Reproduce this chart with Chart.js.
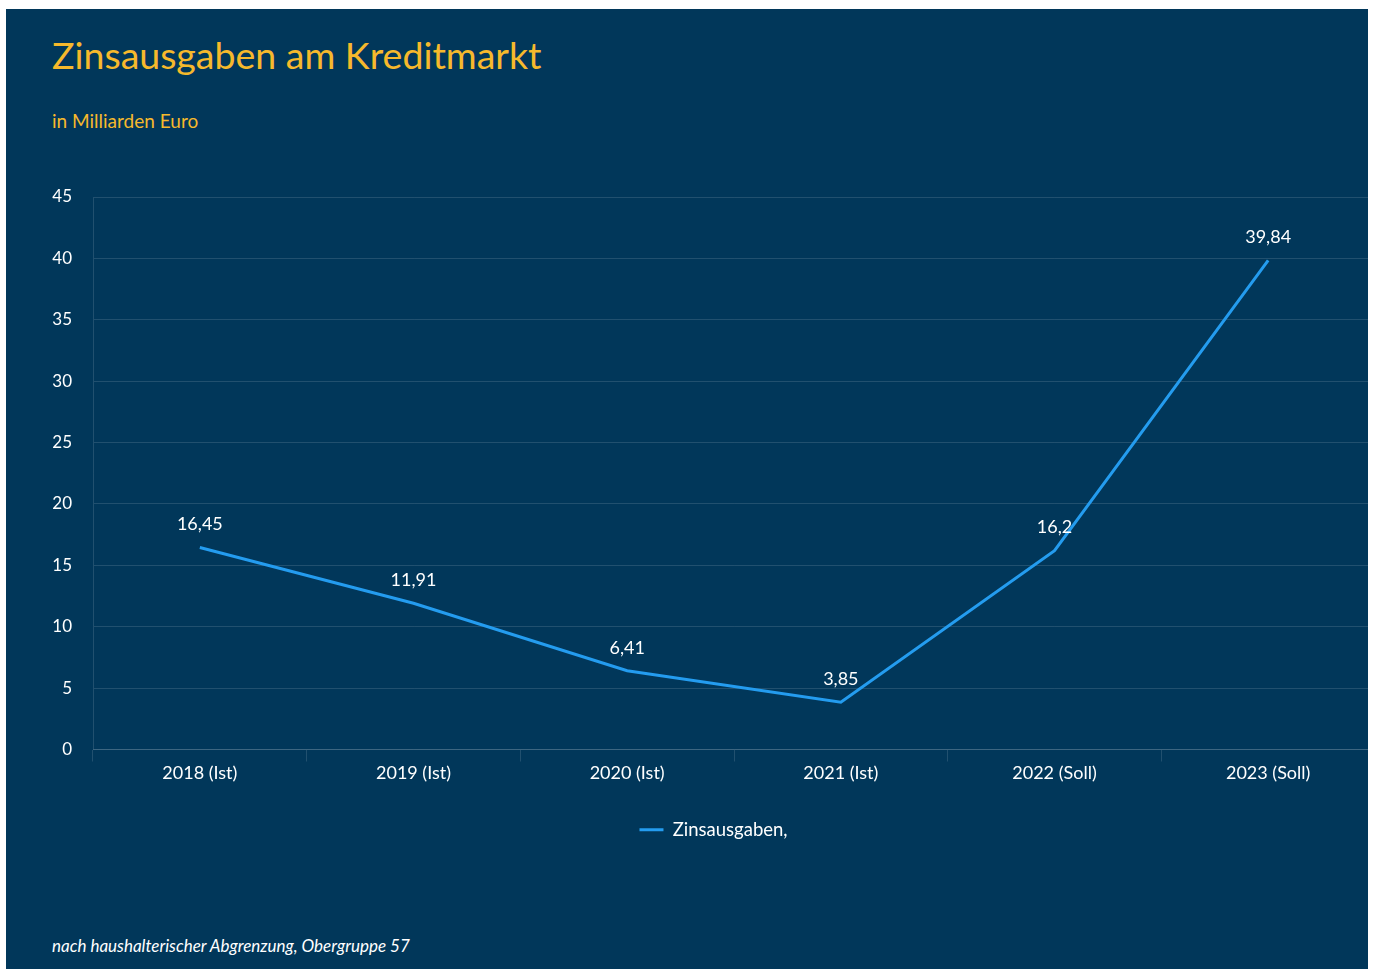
<!DOCTYPE html>
<html lang="de">
<head>
<meta charset="utf-8">
<script src="https://cdn.jsdelivr.net/npm/chart.js@4"></script>
<style>
  html, body { margin: 0; padding: 0; background: #ffffff; }
  #panel { position: absolute; left: 6px; top: 9px; width: 1362px; height: 960px; background: #01375a; overflow: hidden; font-family: Lato, "Noto Sans", sans-serif; }
  #title { position: absolute; left: 46px; top: 23px; color: #f6b92c; font-size: 37.5px; white-space: nowrap; }
  #subtitle { position: absolute; left: 46px; top: 100px; color: #f6b92c; font-size: 19px; white-space: nowrap; }
  #foot { position: absolute; left: 46px; top: 926px; color: #ffffff; font-size: 17px; font-style: italic; white-space: nowrap; }
  #c { position: absolute; left: 0; top: 151px; }
</style>
</head>
<body>
<div id="panel">
  <div id="title">Zinsausgaben am Kreditmarkt</div>
  <div id="subtitle">in Milliarden Euro</div>
  <canvas id="c" width="1369" height="700"></canvas>
  <div id="foot">nach haushalterischer Abgrenzung, Obergruppe 57</div>
</div>
<script>
const categories = ["2018 (Ist)", "2019 (Ist)", "2020 (Ist)", "2021 (Ist)", "2022 (Soll)", "2023 (Soll)"];
const seriesName = "Zinsausgaben,";
const zinsausgaben = [16.45, 11.91, 6.41, 3.85, 16.2, 39.84];
const yTicks = [0, 5, 10, 15, 20, 25, 30, 35, 40, 45];

const BLUE = "#249cef";
const GRID = "rgba(255,255,255,0.13)";
const FONT = "Lato, 'Noto Sans', sans-serif";

const valueLabels = {
  id: "valueLabels",
  afterDatasetsDraw(chart) {
    const ctx = chart.ctx;
    const meta = chart.getDatasetMeta(0);
    ctx.save();
    ctx.font = "18px " + FONT;
    ctx.fillStyle = "#ffffff";
    ctx.textAlign = "center";
    ctx.textBaseline = "middle";
    meta.data.forEach((pt, i) => {
      const v = chart.data.datasets[0].data[i];
      ctx.fillText(String(v).replace(".", ","), pt.x, pt.y - 23);
    });
    ctx.restore();
  }
};

// the reference legend sits slightly right of the canvas centre
const legendShift = {
  id: "legendShift",
  afterLayout(chart) {
    if (chart.legend) { chart.legend.left += 23; chart.legend.right += 23; }
  }
};

new Chart(document.getElementById("c"), {
  type: "line",
  data: {
    labels: categories,
    datasets: [{
      label: seriesName,
      data: zinsausgaben,
      borderColor: BLUE,
      backgroundColor: BLUE,
      borderWidth: 3,
      pointRadius: 0,
      tension: 0,
      fill: false
    }]
  },
  options: {
    responsive: false,
    animation: false,
    devicePixelRatio: 1,
    layout: { padding: { top: 37, right: 0, bottom: 11, left: 0 } },
    scales: {
      x: {
        offset: true,
        grid: { offset: true, drawOnChartArea: false, drawTicks: true, tickLength: 12, color: GRID, tickColor: GRID },
        border: { display: true, color: GRID },
        ticks: { color: "#ffffff", font: { family: FONT, size: 18 }, padding: 1, maxRotation: 0 },
        afterFit(scale) { scale.height = 61; }
      },
      y: {
        min: 0, max: 45,
        afterBuildTicks(scale) { scale.ticks = yTicks.map(v => ({ value: v })); },
        grid: { color: GRID, drawTicks: false },
        border: { display: true, color: GRID },
        ticks: { color: "#ffffff", font: { family: FONT, size: 17 }, padding: 21 },
        afterFit(scale) { scale.width = 87; }
      }
    },
    plugins: {
      legend: {
        position: "bottom",
        labels: {
          color: "#ffffff",
          font: { family: FONT, size: 18.5 },
          boxWidth: 24,
          boxHeight: 3,
          padding: 10,
          generateLabels(chart) {
            const items = Chart.defaults.plugins.legend.labels.generateLabels(chart);
            items.forEach(it => { it.lineWidth = 0; it.fillStyle = BLUE; });
            return items;
          }
        }
      },
      tooltip: { enabled: false },
      title: { display: false }
    }
  },
  plugins: [valueLabels, legendShift]
});
</script>
</body>
</html>
